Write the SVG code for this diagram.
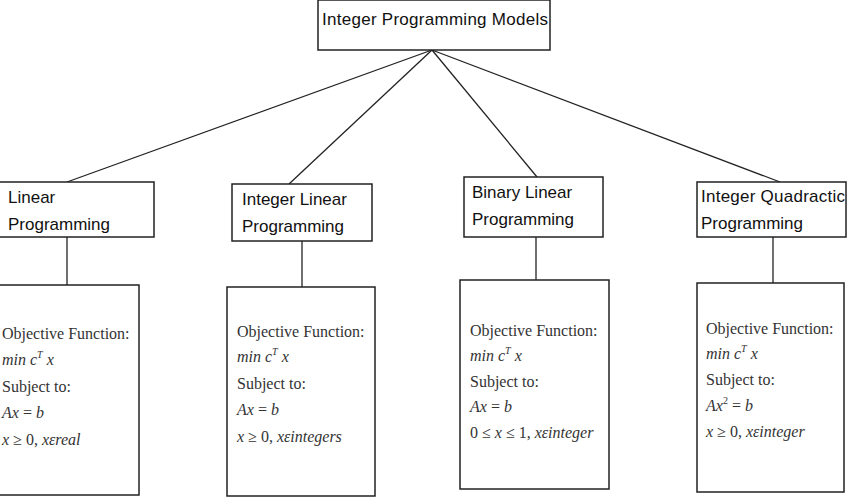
<svg xmlns="http://www.w3.org/2000/svg" width="848" height="499" viewBox="0 0 848 499">
<style>
.b{fill:#fff;stroke:#222;stroke-width:1.5}
.h{font-family:"Liberation Sans",Arial,sans-serif;font-size:17px;fill:#111}
.m{font-family:"Liberation Serif","Times New Roman",serif;font-size:16px;fill:#333}
.i{font-style:italic}
.c{stroke:#222;stroke-width:1.3;fill:none}
</style>
<rect width="848" height="499" fill="#fff"/>
<g id="connectors">
<line class="c" x1="432" y1="50" x2="67" y2="182"/>
<line class="c" x1="432" y1="50" x2="289" y2="184"/>
<line class="c" x1="432" y1="50" x2="537" y2="177"/>
<line class="c" x1="432" y1="50" x2="780" y2="182"/>
<line class="c" x1="67" y1="237" x2="67" y2="285"/>
<line class="c" x1="302" y1="241" x2="302" y2="287"/>
<line class="c" x1="536" y1="237" x2="536" y2="280"/>
<line class="c" x1="773" y1="237" x2="773" y2="283"/>
</g>
<g id="root"><rect class="b" x="318" y="0" width="232" height="50"/><text class="h" x="322" y="25" textLength="226">Integer Programming Models</text></g>
<g id="lp"><rect class="b" x="-1" y="182" width="155" height="55"/><text class="h" x="8" y="203">Linear</text><text class="h" x="8" y="230">Programming</text></g>
<g id="ilp"><rect class="b" x="232" y="184" width="140" height="57"/><text class="h" x="242" y="205">Integer Linear</text><text class="h" x="242" y="232">Programming</text></g>
<g id="blp"><rect class="b" x="464" y="177" width="139" height="60"/><text class="h" x="472" y="198">Binary Linear</text><text class="h" x="472" y="225">Programming</text></g>
<g id="iqp"><rect class="b" x="697" y="182" width="149" height="55"/><text class="h" x="701" y="202" textLength="144">Integer Quadractic</text><text class="h" x="701" y="229">Programming</text></g>
<g id="lp-detail"><rect class="b" x="-1" y="285" width="140" height="210"/>
<text class="m" x="2" y="339">Objective Function:</text>
<text class="m i" x="2" y="365">min c<tspan font-size="10" dy="-7">T</tspan><tspan dy="7"> x</tspan></text>
<text class="m" x="2" y="392">Subject to:</text>
<text class="m" x="2" y="418"><tspan class="i">Ax</tspan> = <tspan class="i">b</tspan></text>
<text class="m" x="2" y="445"><tspan class="i">x</tspan> ≥ 0, <tspan class="i">xεreal</tspan></text>
</g>
<g id="ilp-detail"><rect class="b" x="227" y="287" width="148" height="209"/>
<text class="m" x="237" y="337">Objective Function:</text>
<text class="m i" x="237" y="362">min c<tspan font-size="10" dy="-7">T</tspan><tspan dy="7"> x</tspan></text>
<text class="m" x="237" y="389">Subject to:</text>
<text class="m" x="237" y="415"><tspan class="i">Ax</tspan> = <tspan class="i">b</tspan></text>
<text class="m" x="237" y="442"><tspan class="i">x</tspan> ≥ 0, <tspan class="i">xεintegers</tspan></text>
</g>
<g id="blp-detail"><rect class="b" x="460" y="280" width="149" height="209"/>
<text class="m" x="470" y="336">Objective Function:</text>
<text class="m i" x="470" y="361">min c<tspan font-size="10" dy="-7">T</tspan><tspan dy="7"> x</tspan></text>
<text class="m" x="470" y="387">Subject to:</text>
<text class="m" x="470" y="412"><tspan class="i">Ax</tspan> = <tspan class="i">b</tspan></text>
<text class="m" x="470" y="438">0 ≤ <tspan class="i">x</tspan> ≤ 1, <tspan class="i">xεinteger</tspan></text>
</g>
<g id="iqp-detail"><rect class="b" x="697" y="283" width="147" height="209"/>
<text class="m" x="706" y="334">Objective Function:</text>
<text class="m i" x="706" y="359">min c<tspan font-size="10" dy="-7">T</tspan><tspan dy="7"> x</tspan></text>
<text class="m" x="706" y="385">Subject to:</text>
<text class="m" x="706" y="411"><tspan class="i">Ax</tspan><tspan font-size="10" dy="-7">2</tspan><tspan dy="7"> = </tspan><tspan class="i">b</tspan></text>
<text class="m" x="706" y="437"><tspan class="i">x</tspan> ≥ 0, <tspan class="i">xεinteger</tspan></text>
</g>
</svg>
